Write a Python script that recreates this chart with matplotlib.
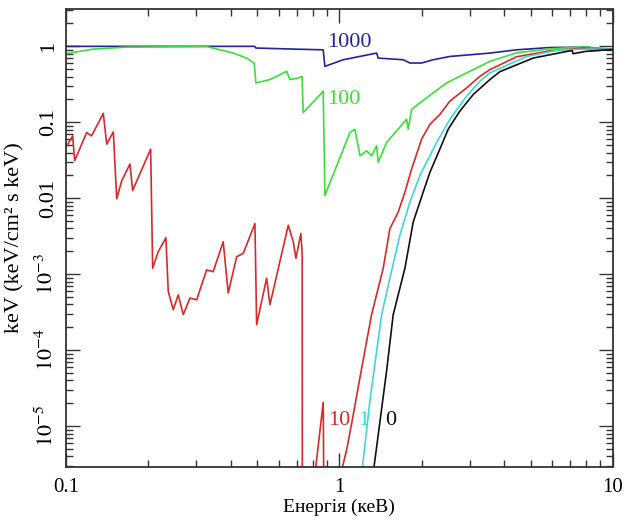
import numpy as np
import matplotlib
matplotlib.use('Agg')
import matplotlib.pyplot as plt
from matplotlib.ticker import FixedLocator, LogLocator, NullFormatter

plt.rcParams['font.family'] = ['Liberation Serif', 'DejaVu Serif']
plt.rcParams['mathtext.fontset'] = 'stix'

# absorbed spectra, energy in keV
e_1000 = [0.1, 0.49, 0.495, 0.678, 0.872, 0.885, 1.032, 1.368, 1.386, 1.712, 1.811, 1.998,
          2.203, 2.535, 3.0, 3.549, 4.446, 5.886, 8.2, 8.3, 10]
f_1000 = [1.0, 1.0, 0.95, 0.92, 0.90, 0.545, 0.666, 0.815, 0.70, 0.666, 0.603, 0.603,
          0.666, 0.736, 0.774, 0.815, 0.90, 0.965, 0.976, 0.88, 0.90]

e_100 = [0.1, 0.1258, 0.1667, 0.327, 0.366, 0.409, 0.458, 0.488, 0.495, 0.557, 0.641, 0.659,
         0.707, 0.730, 0.737, 0.8725, 0.885, 1.092, 1.139, 1.189, 1.257, 1.311, 1.368, 1.386,
         1.488, 1.761, 1.785, 1.837, 2.084, 2.466, 2.918, 3.549, 4.446, 5.886, 7.788, 10]
f_100 = [0.80, 0.92, 0.976, 0.994, 0.90, 0.815, 0.70, 0.60, 0.33, 0.365, 0.469, 0.365,
         0.384, 0.40, 0.134, 0.256, 0.0109, 0.0733, 0.081, 0.0363, 0.0421, 0.0363, 0.049, 0.0297,
         0.0543, 0.1094, 0.081, 0.148, 0.21, 0.33, 0.447, 0.633, 0.822, 0.928, 0.985, 0.919]

e_10 = [0.1, 0.1058, 0.1076, 0.119, 0.124, 0.1369, 0.1409, 0.149, 0.1533, 0.160, 0.1714, 0.1753,
        0.204, 0.2075, 0.2175, 0.232, 0.2366, 0.2468, 0.2574, 0.2685, 0.284, 0.3006, 0.3268,
        0.3455, 0.3758, 0.392, 0.421, 0.4448, 0.491, 0.498, 0.5418, 0.5571, 0.65, 0.678, 0.6935,
        0.723, 0.731, 0.732, 0.81, 0.8725, 0.885, 1.0, 1.062, 1.108, 1.189, 1.311, 1.446, 1.530,
        1.641, 1.736, 1.837, 1.998, 2.143, 2.330, 2.535, 2.918, 3.264, 3.549, 4.446, 5.886,
        7.788, 10]
f_10 = [0.047, 0.0662, 0.0312, 0.0733, 0.0662, 0.131, 0.0516, 0.0747, 0.00985, 0.0171, 0.0282,
        0.01265, 0.0444, 0.0012, 0.00198, 0.00302, 5.94e-4, 3.41e-4, 5.36e-4, 2.94e-4, 4.86e-4,
        4.61e-4, 1.14e-3, 1.08e-3, 2.68e-3, 5.65e-4, 1.70e-3, 1.88e-3, 4.64e-3, 2.17e-4, 8.87e-4,
        3.97e-4, 4.41e-3, 2.68e-3, 1.62e-3, 3.44e-3, 1.79e-3, 1e-8, 2e-6, 2.06e-5, 1e-8, 2e-6,
        4.81e-6, 1.07e-5, 4.37e-5, 2.94e-4, 1.2e-3, 3.99e-3, 6.6e-3, 0.01205, 0.0243, 0.06,
        0.0942, 0.127, 0.19, 0.284, 0.403, 0.493, 0.729, 0.873, 0.947, 0.919]

e_1 = [1.2, 1.293, 1.427, 1.530, 1.664, 1.811, 1.969, 2.267, 2.535, 2.918, 3.264, 3.549, 4.837,
       6.40, 8.24, 10]
f_1 = [2e-6, 2.17e-5, 2.94e-4, 8.87e-4, 3.27e-3, 8.91e-3, 0.0199, 0.0543, 0.1094, 0.221, 0.347,
       0.447, 0.736, 0.90, 0.919, 0.919]

e_0 = [1.32, 1.488, 1.573, 1.736, 1.862, 2.025, 2.143, 2.330, 2.499, 2.758, 3.085, 3.549, 3.863,
       5.113, 6.77, 7.1, 7.15, 8.0, 10]
f_0 = [2e-6, 5.35e-5, 2.94e-4, 1.2e-3, 4.89e-3, 0.01205, 0.022, 0.0444, 0.081, 0.1406, 0.232,
       0.365, 0.464, 0.701, 0.855, 0.88, 0.80, 0.86, 0.91]

labels = ['1000', '100', '10', '1', '0']
colors = ['#23239a', '#3ddc3d', '#d42a2a', '#3fd6d6', '#111111']
label_pos = [(0.9, 1.11), (0.9, 0.2), (0.908, 1.2e-5), (1.168, 1.2e-5), (1.467, 1.2e-5)]

yticks = [1e-5, 1e-4, 1e-3, 0.01, 0.1, 1]
yticklabels = [r'$10^{-5}$', r'$10^{-4}$', r'$10^{-3}$', '0.01', '0.1', '1']
xticks = [0.1, 1, 10]
xticklabels = ['0.1', '1', '10']

fig = plt.figure(figsize=(6.26, 5.24), dpi=100)
ax = fig.add_axes([0.1054, 0.1088, 0.8736, 0.874])

series = [(e_1000, f_1000), (e_100, f_100), (e_10, f_10), (e_1, f_1), (e_0, f_0)]
for (e, f), c in zip(series, colors):
    ax.plot(e, f, color=c, lw=1.2)

for lab, c, (x, y) in zip(labels, colors, label_pos):
    ax.text(x, y, lab, color=c, fontsize=16, ha='left', va='center')

ax.set_xscale('log')
ax.set_yscale('log')
ax.set_xlim(0.1, 10)
ax.set_ylim(2.9e-6, 3.1)

ax.xaxis.set_major_locator(FixedLocator(xticks))
ax.set_xticklabels(xticklabels, fontsize=15)
ax.xaxis.set_minor_locator(LogLocator(base=10, subs=np.arange(2, 10)))
ax.xaxis.set_minor_formatter(NullFormatter())

ax.yaxis.set_major_locator(FixedLocator(yticks))
ax.set_yticklabels(yticklabels, fontsize=16, rotation=90, va='center')
ax.yaxis.set_minor_locator(LogLocator(base=10, subs=np.arange(2, 10), numticks=20))
ax.yaxis.set_minor_formatter(NullFormatter())

ax.tick_params(which='both', direction='in', top=True, right=True, width=1, color='#333333')
ax.tick_params(which='major', length=10)
ax.tick_params(axis='y', which='major', pad=6)
ax.tick_params(axis='x', which='major', pad=8)
ax.tick_params(which='minor', length=5)
for s in ax.spines.values():
    s.set_linewidth(1.3)
    s.set_color('#333333')

ax.set_xlabel('Енергія (кеВ)', fontsize=14)
ax.xaxis.set_label_coords(0.5, -0.069)
ax.set_ylabel('keV (keV/cm² s keV)', fontsize=16, labelpad=8)

fig.savefig('out.png', dpi=100)
